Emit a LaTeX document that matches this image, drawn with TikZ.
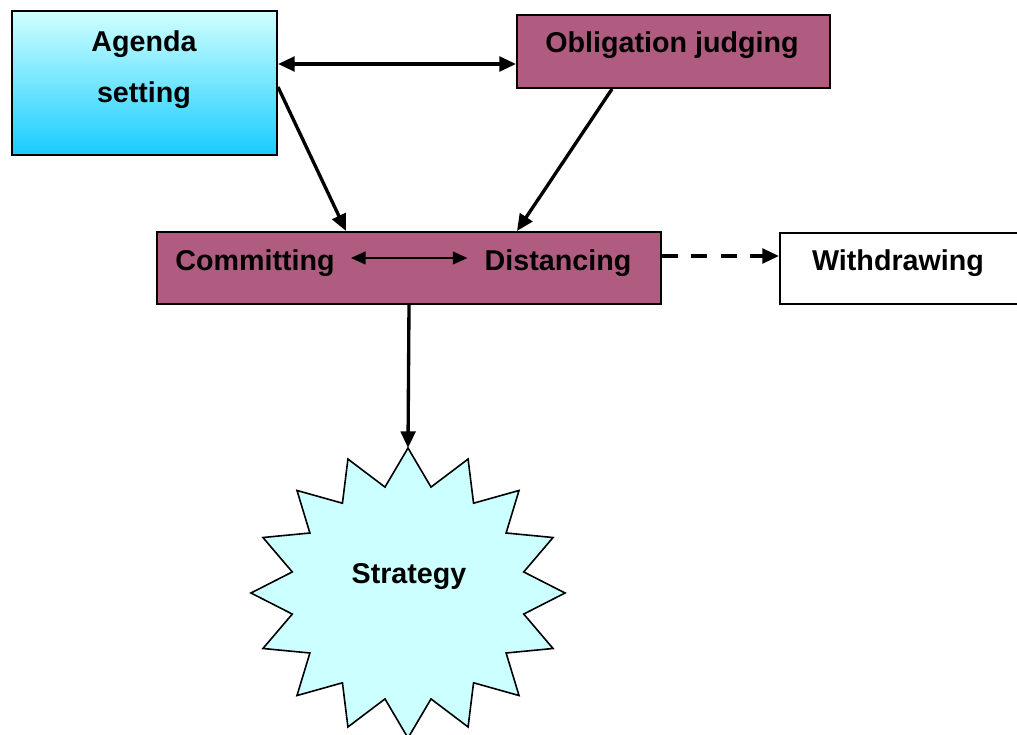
\documentclass[tikz,border=0pt]{standalone}
\usepackage{fontspec}
\setmainfont{Liberation Sans}
\usetikzlibrary{arrows.meta,calc}
\definecolor{mauve}{RGB}{176,92,128}
\definecolor{skytop}{RGB}{208,255,255}
\definecolor{skybot}{RGB}{24,204,255}
\definecolor{starfill}{RGB}{204,255,255}
\begin{document}
\begin{tikzpicture}[x=0.75pt,y=-0.75pt,
  box/.style={draw=black,line width=1.5pt,inner sep=0pt,anchor=north west},
  lbl/.style={font=\fontsize{21.5pt}{25pt}\selectfont\bfseries,inner sep=0pt,anchor=base},
  arr/.style={line width=2.5pt,-{Triangle[length=12.5pt,width=11pt]}},
  dblarr/.style={line width=2.5pt,{Triangle[length=12.5pt,width=11pt]}-{Triangle[length=12.5pt,width=11pt]}},
  thinarr/.style={line width=1.6pt,{Triangle[length=11pt,width=9.5pt]}-{Triangle[length=11pt,width=9.5pt]}},
  dasharr/.style={line width=2.5pt,dash pattern=on 12pt off 10pt,-{Triangle[length=12.5pt,width=11pt]}},
  starsty/.style={draw=black,line width=1.2pt,fill=starfill,line join=miter}
]
\useasboundingbox (0,0) rectangle (1017,735);

% boxes
\node[box,top color=skytop,bottom color=skybot,
      minimum width=265*0.75pt,minimum height=144*0.75pt] (agenda) at (11,10) {};
\node[box,fill=mauve,minimum width=313*0.75pt,minimum height=73*0.75pt] (obl) at (516,14) {};
\node[box,fill=mauve,minimum width=504*0.75pt,minimum height=72*0.75pt] (cd) at (156,231) {};
\node[box,fill=white,minimum width=260*0.75pt,minimum height=71*0.75pt] (wd) at (779,232) {};

% sixteen-pointed star
\draw[starsty] plot[samples at={0,...,31},variable=\k]
  ({408+(118+39*(1-mod(\k,2)))*cos(90+11.25*\k)},
   {593-(108+37*(1-mod(\k,2)))*sin(90+11.25*\k)}) -- cycle;
\coordinate (startop) at (408,448);

% labels
\node[lbl] (agendaA) at (144,52) {Agenda};
\node[lbl] (agendaB) at (144,103) {setting};
\node[lbl] (oblT) at (672,53) {Obligation judging};
\node[lbl] (commit) at (255,270) {Committing};
\node[lbl] (dist) at (558,270) {Distancing};
\node[lbl] (wdT) at (898,270) {Withdrawing};
\node[lbl] (strat) at (409,583) {Strategy};

% connectors
\draw[dblarr] (agenda.east |- 0,64) -- (obl.west |- 0,64);
\draw[arr] (agenda.east |- 0,87) -- (cd.north -| 346,0);
\draw[arr] (obl.south -| 612,0) -- (cd.north -| 517,0);
\draw[thinarr,shorten <=16*0.75pt,shorten >=17*0.75pt] (commit.east |- 0,258) -- (dist.west |- 0,258);
\draw[dasharr] (cd.east |- 0,256) -- (wd.west |- 0,256);
\draw[arr] (cd.south) -- (startop);
\end{tikzpicture}
\end{document}
